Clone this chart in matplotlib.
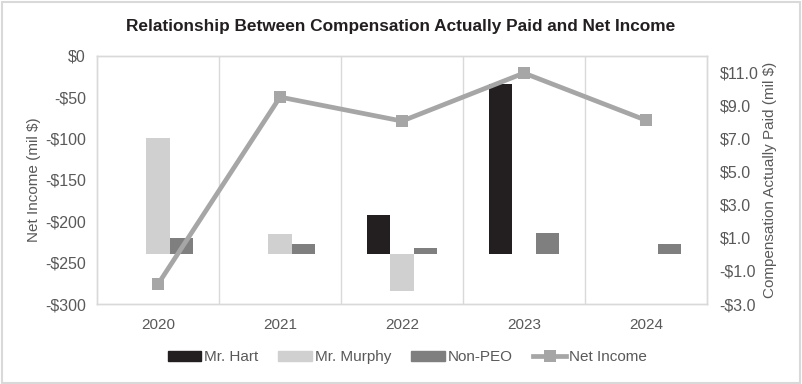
import matplotlib
matplotlib.use("Agg")
import matplotlib.pyplot as plt
import numpy as np
from matplotlib.lines import Line2D
from matplotlib.patches import Patch, Rectangle

years = ["2020", "2021", "2022", "2023", "2024"]
hart = [0.0, 0.0, 2.4, 10.3, 0.0]
murphy = [7.0, 1.2, -2.2, 0.0, 0.0]
non_peo = [1.0, 0.6, 0.4, 1.3, 0.6]
net_income = [-276, -50, -79, -21, -78]

left_ticks = [0, -50, -100, -150, -200, -250, -300]
right_ticks = [11.0, 9.0, 7.0, 5.0, 3.0, 1.0, -1.0, -3.0]

plt.rcParams['font.family'] = ['Liberation Sans', 'DejaVu Sans']

fs = 11
fig = plt.figure(figsize=(8.02, 3.84), dpi=100)
fig.patches.append(Rectangle((0.002, 0.002), 0.996, 0.994, transform=fig.transFigure,
                             fill=False, edgecolor='#d9d9d9', linewidth=1.5))
ax = fig.add_axes([0.121, 0.2083, 0.7605, 0.6467])
ax2 = ax.twinx()

x = np.arange(len(years))
w = 0.19
c_hart = '#231f20'
c_murphy = '#d0d0d0'
c_nonpeo = '#7f7f7f'
c_line = '#a6a6a6'

ax2.bar(x - w, hart, w, color=c_hart)
ax2.bar(x, murphy, w, color=c_murphy)
ax2.bar(x + w, non_peo, w, color=c_nonpeo)
ax2.set_ylim(-3, 12)
ax2.set_yticks(right_ticks)
ax2.set_yticklabels([("-$%.1f" % -v) if v < 0 else ("$%.1f" % v) for v in right_ticks])

ax.set_zorder(ax2.get_zorder() + 1)
ax.patch.set_visible(False)
ax.plot(x, net_income, color=c_line, linewidth=3.4, marker='s', markersize=8,
        markeredgewidth=0, zorder=5)
ax.set_ylim(-300, 0)
ax.set_yticks(left_ticks)
ax.set_yticklabels([("-$%d" % -v) if v < 0 else "$%d" % v for v in left_ticks])
ax.set_xlim(-0.5, 4.5)
ax.set_xticks(x)
ax.set_xticklabels(years)
for b in [0.5, 1.5, 2.5, 3.5]:
    ax2.axvline(b, color='#d9d9d9', linewidth=1, zorder=0)

for a in (ax, ax2):
    for s in a.spines.values():
        s.set_color('#d9d9d9')
        s.set_linewidth(1)
    a.tick_params(length=0, labelsize=fs, colors='#595959')
ax2.tick_params(axis='y', labelsize=11.5)
ax.tick_params(axis='y', labelsize=11.5)
ax.tick_params(axis='x', pad=10)
ax.tick_params(axis='y', pad=8)
ax2.tick_params(axis='y', pad=9)

ax.set_ylabel("Net Income (mil $)", fontsize=fs, color='#595959', labelpad=3)
ax2.set_ylabel("Compensation Actually Paid (mil $)", fontsize=fs, color='#595959', labelpad=3)

fig.suptitle("Relationship Between Compensation Actually Paid and Net Income",
             x=0.5, y=0.95, fontsize=12.4, fontweight='bold', color='#231f20')

handles = [Patch(color=c_hart), Patch(color=c_murphy), Patch(color=c_nonpeo),
           Line2D([], [], color=c_line, linewidth=3.4, marker='s', markersize=8, markeredgewidth=0)]
labels = ["Mr. Hart", "Mr. Murphy", "Non-PEO", "Net Income"]
fig.legend(handles, labels, loc='center', bbox_to_anchor=(0.508, 0.07), ncol=4, frameon=False,
           fontsize=fs, labelcolor='#595959', handlelength=2.2, handletextpad=0.2,
           columnspacing=1.3, handleheight=0.6)

fig.savefig("out.png", dpi=100)
